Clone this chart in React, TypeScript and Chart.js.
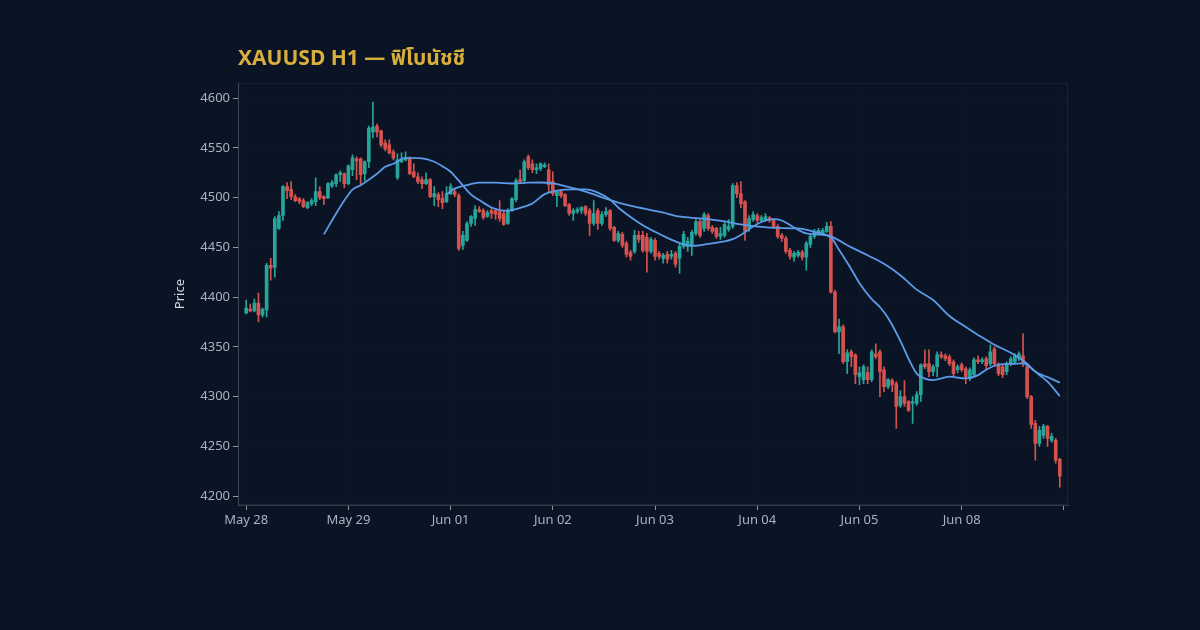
import React, { useEffect, useRef } from 'react';
import { Chart, registerables } from 'chart.js';

Chart.register(...registerables);

// XAUUSD H1 candles, one per hour
const opens = [
  4384, 4388, 4386, 4394, 4382, 4387, 4432, 4430, 4469, 4482,
  4511, 4508, 4501, 4499, 4497, 4490, 4494, 4496, 4506, 4501,
  4500, 4512, 4514, 4523, 4524, 4514, 4528, 4539, 4539, 4524,
  4536, 4566, 4572, 4567, 4555, 4553, 4546, 4520, 4536, 4538,
  4539, 4526, 4521, 4518, 4514, 4518, 4501, 4503, 4499, 4496,
  4504, 4506, 4502, 4452, 4457, 4474, 4479, 4488, 4487, 4481,
  4487, 4487, 4486, 4484, 4474, 4487, 4498, 4518, 4517, 4541,
  4534, 4528, 4529, 4531, 4528, 4516, 4502, 4506, 4503, 4493,
  4484, 4486, 4487, 4491, 4487, 4474, 4487, 4474, 4483, 4487,
  4470, 4457, 4463, 4454, 4445, 4446, 4462, 4462, 4460, 4446,
  4457, 4444, 4439, 4443, 4441, 4444, 4439, 4451, 4451, 4451,
  4464, 4476, 4469, 4482, 4470, 4469, 4461, 4462, 4468, 4471,
  4512, 4504, 4496, 4469, 4478, 4482, 4477, 4477, 4480, 4477,
  4471, 4462, 4459, 4447, 4440, 4442, 4445, 4440, 4453, 4461,
  4463, 4464, 4466, 4471, 4405, 4365, 4370, 4335, 4345, 4342,
  4320, 4317, 4324, 4317, 4343, 4345, 4327, 4310, 4316, 4313,
  4291, 4300, 4295, 4293, 4293, 4302, 4333, 4333, 4325, 4330,
  4342, 4341, 4340, 4335, 4327, 4332, 4328, 4318, 4322, 4337,
  4335, 4338, 4333, 4348, 4332, 4330, 4325, 4333, 4335, 4338,
  4341, 4330, 4300, 4273, 4253, 4261, 4270, 4256, 4256, 4237,
];
const highs = [
  4397, 4393, 4398, 4404, 4389, 4434, 4439, 4481, 4486, 4512,
  4515, 4516, 4503, 4500, 4499, 4496, 4499, 4520, 4511, 4502,
  4515, 4517, 4524, 4527, 4525, 4533, 4543, 4541, 4540, 4537,
  4572, 4596, 4574, 4568, 4558, 4558, 4548, 4544, 4545, 4546,
  4541, 4534, 4525, 4521, 4525, 4519, 4511, 4505, 4506, 4511,
  4514, 4508, 4504, 4466, 4476, 4482, 4492, 4491, 4489, 4487,
  4489, 4488, 4497, 4487, 4489, 4500, 4519, 4528, 4538, 4543,
  4538, 4534, 4535, 4535, 4534, 4526, 4507, 4508, 4504, 4494,
  4489, 4490, 4491, 4492, 4489, 4497, 4489, 4486, 4490, 4488,
  4471, 4466, 4465, 4456, 4447, 4467, 4466, 4466, 4464, 4460,
  4459, 4446, 4444, 4446, 4447, 4446, 4453, 4466, 4460, 4467,
  4478, 4479, 4485, 4484, 4472, 4470, 4470, 4475, 4478, 4514,
  4515, 4516, 4497, 4482, 4486, 4484, 4482, 4484, 4481, 4478,
  4473, 4464, 4461, 4449, 4446, 4447, 4447, 4456, 4463, 4468,
  4469, 4469, 4475, 4476, 4407, 4378, 4372, 4347, 4347, 4343,
  4330, 4332, 4330, 4347, 4353, 4347, 4330, 4318, 4318, 4315,
  4306, 4316, 4296, 4300, 4305, 4333, 4347, 4347, 4332, 4345,
  4345, 4343, 4342, 4337, 4332, 4334, 4330, 4329, 4339, 4341,
  4339, 4340, 4352, 4350, 4334, 4332, 4335, 4340, 4343, 4345,
  4363, 4333, 4301, 4276, 4270, 4272, 4271, 4263, 4258, 4238,
];
const lows = [
  4383, 4385, 4385, 4375, 4380, 4380, 4417, 4420, 4468, 4477,
  4499, 4498, 4496, 4494, 4490, 4489, 4492, 4492, 4498, 4493,
  4499, 4510, 4511, 4516, 4510, 4513, 4522, 4518, 4513, 4517,
  4530, 4560, 4561, 4551, 4547, 4544, 4538, 4518, 4535, 4537,
  4523, 4520, 4514, 4509, 4513, 4500, 4492, 4491, 4489, 4495,
  4503, 4501, 4447, 4448, 4456, 4471, 4472, 4485, 4478, 4480,
  4479, 4478, 4476, 4472, 4473, 4486, 4496, 4515, 4516, 4528,
  4525, 4524, 4527, 4530, 4506, 4502, 4491, 4500, 4491, 4482,
  4477, 4484, 4484, 4482, 4462, 4472, 4468, 4472, 4481, 4467,
  4456, 4455, 4450, 4440, 4437, 4444, 4455, 4445, 4425, 4444,
  4437, 4438, 4434, 4434, 4438, 4430, 4424, 4449, 4446, 4442,
  4462, 4460, 4466, 4467, 4464, 4459, 4458, 4460, 4466, 4469,
  4500, 4490, 4457, 4466, 4476, 4475, 4475, 4476, 4475, 4469,
  4459, 4456, 4444, 4438, 4436, 4440, 4437, 4427, 4450, 4459,
  4462, 4462, 4465, 4404, 4364, 4343, 4333, 4323, 4330, 4313,
  4312, 4313, 4313, 4315, 4338, 4300, 4305, 4308, 4305, 4268,
  4289, 4290, 4285, 4273, 4291, 4295, 4328, 4320, 4321, 4320,
  4338, 4336, 4331, 4321, 4324, 4325, 4313, 4316, 4320, 4333,
  4333, 4328, 4331, 4330, 4321, 4319, 4322, 4331, 4333, 4336,
  4330, 4298, 4268, 4236, 4250, 4258, 4250, 4254, 4233, 4209,
];
const closes = [
  4389, 4386, 4394, 4382, 4388, 4432, 4429, 4479, 4482, 4511,
  4507, 4501, 4497, 4496, 4491, 4495, 4497, 4506, 4500, 4499,
  4514, 4515, 4523, 4525, 4514, 4532, 4540, 4537, 4523, 4536,
  4570, 4571, 4566, 4553, 4549, 4545, 4540, 4538, 4539, 4540,
  4524, 4521, 4516, 4514, 4518, 4501, 4504, 4498, 4495, 4504,
  4511, 4503, 4449, 4462, 4474, 4481, 4488, 4486, 4480, 4485,
  4484, 4483, 4479, 4473, 4487, 4499, 4517, 4516, 4536, 4530,
  4528, 4530, 4534, 4533, 4513, 4504, 4506, 4502, 4492, 4484,
  4487, 4488, 4490, 4484, 4474, 4484, 4474, 4483, 4486, 4469,
  4457, 4464, 4452, 4443, 4441, 4462, 4458, 4447, 4446, 4458,
  4441, 4441, 4442, 4438, 4443, 4433, 4451, 4463, 4456, 4465,
  4476, 4462, 4483, 4469, 4466, 4461, 4464, 4473, 4471, 4512,
  4504, 4494, 4466, 4479, 4483, 4477, 4480, 4481, 4477, 4471,
  4461, 4459, 4446, 4441, 4444, 4445, 4440, 4454, 4461, 4465,
  4467, 4467, 4471, 4405, 4365, 4370, 4335, 4344, 4340, 4322,
  4324, 4330, 4317, 4345, 4340, 4325, 4310, 4317, 4312, 4290,
  4300, 4293, 4286, 4295, 4302, 4332, 4330, 4325, 4330, 4342,
  4340, 4338, 4333, 4323, 4330, 4327, 4320, 4327, 4337, 4335,
  4337, 4331, 4345, 4333, 4323, 4322, 4333, 4338, 4341, 4343,
  4333, 4300, 4272, 4253, 4266, 4270, 4258, 4260, 4236, 4220,
];

// moving averages (candle index -> price)
const maFastIndex = [
  19, 22, 24, 26, 28, 30, 32, 34, 36, 39, 43, 46, 48, 50, 52, 55, 57, 60, 62, 64,
  66, 68, 70, 73, 76, 80, 83, 86, 89, 91, 94, 97, 100, 103, 105, 108, 110, 113, 117, 119,
  121, 124, 126, 129, 131, 134, 137, 140, 143, 145, 148, 150, 153, 155, 157, 160, 162, 164, 166, 168,
  172, 176, 179, 181, 184, 188, 190, 192, 194, 196, 199,
];
const maFastValues = [
  4463, 4484, 4497, 4508, 4512.5, 4518, 4524, 4531, 4534, 4540, 4539.5, 4536, 4531.5, 4526, 4517, 4503, 4497.5, 4490, 4487.5, 4486.8,
  4488.3, 4491, 4494, 4503.5, 4507, 4508.2, 4508.2, 4505, 4498, 4490, 4480.5, 4472.3, 4465.6, 4459.5, 4456, 4452, 4451.6, 4453.5, 4456, 4458.3,
  4462.5, 4471, 4475.5, 4478.4, 4477, 4470, 4464, 4463, 4460, 4447.5, 4428, 4414, 4398, 4390, 4379, 4356, 4338, 4323, 4318, 4316.5,
  4320, 4318.3, 4321.5, 4327, 4332, 4333, 4333.4, 4328.5, 4321.6, 4315, 4300.5,
];
const maSlowIndex = [
  49, 51, 54, 57, 61, 65, 69, 72, 75, 78, 83, 88, 91, 95, 99, 103, 105, 109, 113, 117,
  121, 126, 130, 135, 139, 143, 148, 152, 156, 160, 164, 168, 172, 176, 179, 183, 187, 191, 193, 196,
  199,
];
const maSlowValues = [
  4503.5, 4509, 4512.6, 4515, 4515, 4514.2, 4515, 4515.2, 4514.2, 4511.5, 4506, 4499, 4495, 4491, 4487.5, 4484, 4481.7, 4479.7, 4478.4, 4476,
  4473, 4470.5, 4469.5, 4469, 4465.6, 4461, 4450, 4442, 4433.5, 4422, 4407.5, 4397, 4381, 4370, 4362, 4352, 4344, 4333, 4325, 4319.5,
  4314,
];

const dayTickIndex = [0, 25, 50, 75, 100, 125, 150, 175, 200];
const dayTickLabels = ['May 28', 'May 29', 'Jun 01', 'Jun 02', 'Jun 03', 'Jun 04', 'Jun 05', 'Jun 08', ''];
const priceTicks = [4200, 4250, 4300, 4350, 4400, 4450, 4500, 4550, 4600];

const UP = '#26a69a';
const DOWN = '#d5524f';
const MA_COLOR = '#5b9be8';
const BG = '#0b1424';
const FONT = '"Noto Sans", "Noto Sans Thai", Loma, Garuda, "DejaVu Sans", sans-serif';

// faint frame round the plot area
const plotFrame = {
  id: 'plotFrame',
  beforeDatasetsDraw(chart: any) {
    const { ctx, chartArea: a } = chart;
    ctx.save();
    ctx.strokeStyle = 'rgba(255,255,255,0.07)';
    ctx.lineWidth = 1;
    ctx.strokeRect(a.left + 0.5, a.top + 0.5, a.width - 1, a.height - 1);
    ctx.restore();
  },
};

const CandleChart: React.FC = () => {
  const chartRef = useRef<HTMLCanvasElement>(null);
  const chartInstance = useRef<Chart | null>(null);

  useEffect(() => {
    if (!chartRef.current) return;
    if (chartInstance.current) chartInstance.current.destroy();

    const ctx = chartRef.current.getContext('2d');
    if (!ctx) return;

    const colors = closes.map((c, i) => (c >= opens[i] ? UP : DOWN));

    chartInstance.current = new Chart(ctx, {
      type: 'bar',
      data: {
        datasets: [
          {
            type: 'line',
            label: 'SMA 20',
            data: maFastIndex.map((x, i) => ({ x, y: maFastValues[i] })),
            borderColor: MA_COLOR,
            borderWidth: 1.8,
            pointRadius: 0,
            cubicInterpolationMode: 'monotone',
            order: 0,
          },
          {
            type: 'line',
            label: 'SMA 50',
            data: maSlowIndex.map((x, i) => ({ x, y: maSlowValues[i] })),
            borderColor: MA_COLOR,
            borderWidth: 1.8,
            pointRadius: 0,
            cubicInterpolationMode: 'monotone',
            order: 0,
          },
          {
            label: 'Body',
            data: opens.map((o, i) => ({ x: i, y: [o, closes[i]] })),
            backgroundColor: colors,
            barThickness: 3,
            grouped: false,
            order: 1,
          },
          {
            label: 'Wick',
            data: lows.map((l, i) => ({ x: i, y: [l, highs[i]] })),
            backgroundColor: colors,
            barThickness: 1,
            grouped: false,
            order: 2,
          },
        ] as any,
      },
      options: {
        responsive: true,
        maintainAspectRatio: false,
        animation: false,
        layout: { padding: { left: 160, right: 132, top: 35, bottom: 0 } },
        scales: {
          x: {
            type: 'linear',
            min: -2,
            max: 201,
            offset: false,
            afterBuildTicks: (scale: any) => {
              scale.ticks = dayTickIndex.map((v) => ({ value: v }));
            },
            afterFit: (scale: any) => {
              scale.height = 125;
            },
            ticks: {
              autoSkip: false,
              maxRotation: 0,
              padding: 2,
              color: '#aab2c0',
              font: { family: FONT, size: 13 },
              callback: (value: any) => {
                const k = dayTickIndex.indexOf(Number(value));
                return k >= 0 ? dayTickLabels[k] : '';
              },
            },
            grid: {
              offset: false,
              color: 'rgba(255,255,255,0.015)',
              tickColor: 'rgba(200,206,218,0.7)',
              tickLength: 5,
            },
            border: { color: 'rgba(255,255,255,0.16)' },
          },
          y: {
            type: 'linear',
            min: 4191,
            max: 4615,
            afterBuildTicks: (scale: any) => {
              scale.ticks = priceTicks.map((v) => ({ value: v }));
            },
            afterFit: (scale: any) => {
              scale.width = 78;
            },
            title: {
              display: true,
              text: 'Price',
              color: '#d4d8e0',
              font: { family: FONT, size: 13 },
              padding: { top: 12, bottom: 0 },
            },
            ticks: {
              padding: 3,
              color: '#aab2c0',
              font: { family: FONT, size: 13 },
              callback: (value: any) => String(value),
            },
            grid: {
              color: 'rgba(255,255,255,0.015)',
              tickColor: 'rgba(200,206,218,0.7)',
              tickLength: 5,
            },
            border: { color: 'rgba(255,255,255,0.16)' },
          },
        },
        plugins: {
          legend: { display: false },
          tooltip: { enabled: false },
          title: {
            display: true,
            text: 'XAUUSD H1 — ฟิโบนัชชี',
            align: 'start',
            fullSize: false,
            color: '#d8ae3c',
            font: { family: FONT, size: 21, weight: 'bold' },
            padding: { top: 11, bottom: 12 },
          },
        },
      } as any,
      plugins: [plotFrame],
    });

    return () => {
      if (chartInstance.current) {
        chartInstance.current.destroy();
        chartInstance.current = null;
      }
    };
  }, []);

  return (
    <div style={{ position: 'absolute', left: 0, top: 0, width: 1200, height: 630, background: BG }}>
      <canvas ref={chartRef}></canvas>
    </div>
  );
};

export default function App() {
  useEffect(() => {
    document.body.style.margin = '0';
    document.body.style.background = BG;
  }, []);
  return <CandleChart />;
}
